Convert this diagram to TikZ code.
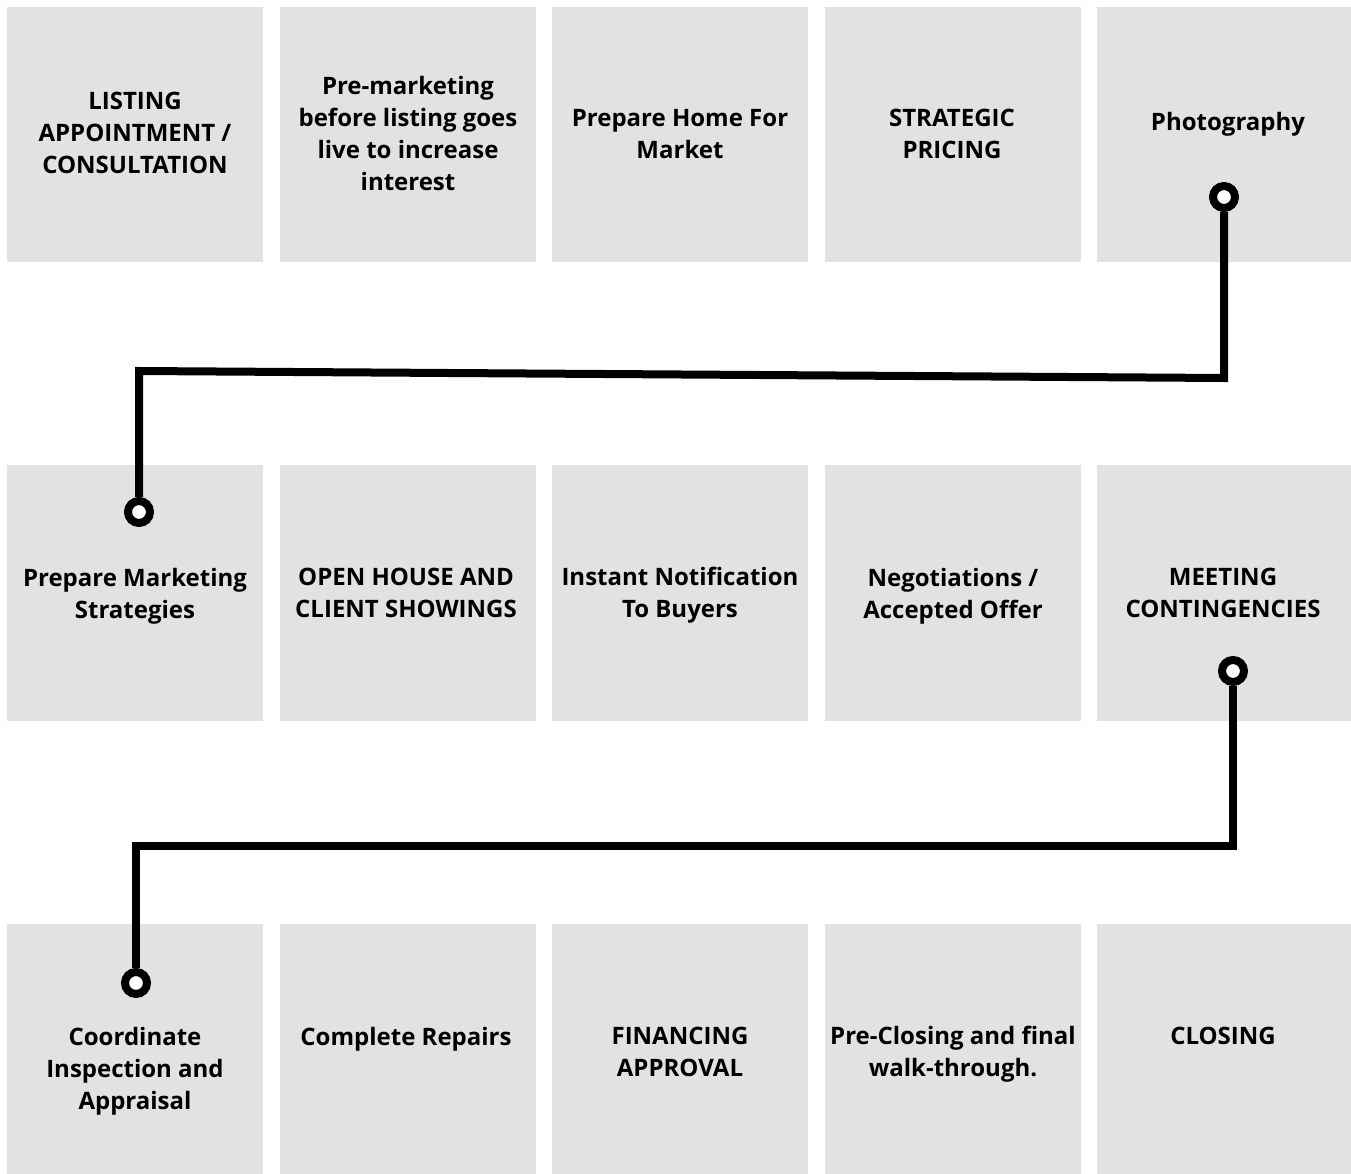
\documentclass[tikz,border=0pt]{standalone}
\usepackage{fontspec}
\setmainfont{Open Sans}
\definecolor{boxgray}{HTML}{E2E2E2}
\begin{document}
\begin{tikzpicture}[x=1pt,y=-1pt,
  card/.style={fill=boxgray,draw=none},
  lbl/.style={align=center,inner sep=0pt,font=\fontsize{24}{32}\selectfont\bfseries},
  ring/.style={circle,draw=black,line width=8pt,fill=white,inner sep=0pt,minimum size=22pt},
  link/.style={draw=black,line width=8pt}]
\useasboundingbox (0,0) rectangle (1351,1174);
% boxes
\foreach \xa/\xb [count=\i] in {7/263,280/536,552/808,825/1081,1097/1351}{
  \fill[boxgray] (\xa,7) rectangle (\xb,262);
  \fill[boxgray] (\xa,465) rectangle (\xb,721);
  \fill[boxgray] (\xa,924) rectangle (\xb,1174);
}
% row 1
\node[lbl] (a1) at (135,133) {LISTING\\APPOINTMENT /\\CONSULTATION};
\node[lbl] (a2) at (408,134) {Pre-marketing\\before listing goes\\live to increase\\interest};
\node[lbl] (a3) at (680,134) {Prepare Home For\\Market};
\node[lbl] (a4) at (952,134) {STRATEGIC\\PRICING};
\node[lbl] (a5) at (1228,124) {Photography};
% row 2
\node[lbl] (b1) at (135,596) {Prepare Marketing\\Strategies};
\node[lbl] (b2) at (406,593) {OPEN HOUSE AND\\CLIENT SHOWINGS};
\node[lbl] (b3) at (680,595) {Instant Notification\\To Buyers};
\node[lbl] (b4) at (953,596) {Negotiations /\\Accepted Offer};
\node[lbl] (b5) at (1223,593) {MEETING\\CONTINGENCIES};
% row 3
\node[lbl] (c1) at (135,1071) {Coordinate\\Inspection and\\Appraisal};
\node[lbl] (c2) at (406,1039) {Complete Repairs};
\node[lbl] (c3) at (680,1052) {FINANCING\\APPROVAL};
\node[lbl] (c4) at (953,1054) {Pre-Closing and final\\walk-through.};
\node[lbl] (c5) at (1223,1036) {CLOSING};
% connectors
\node[ring] (p1) at (1224,197) {};
\node[ring] (p2) at (139,512) {};
\node[ring] (p3) at (1233,671) {};
\node[ring] (p4) at (136,983) {};
\coordinate (k1) at (1224,378);
\coordinate (k2) at (139,371);
\coordinate (k3) at (1233,846);
\coordinate (k4) at (136,846);
\draw[link] (p1.south) -- (k1) -- (k2) -- (p2.north);
\draw[link] (p3.south) -- (k3) -- (k4) -- (p4.north);
\end{tikzpicture}
\end{document}
